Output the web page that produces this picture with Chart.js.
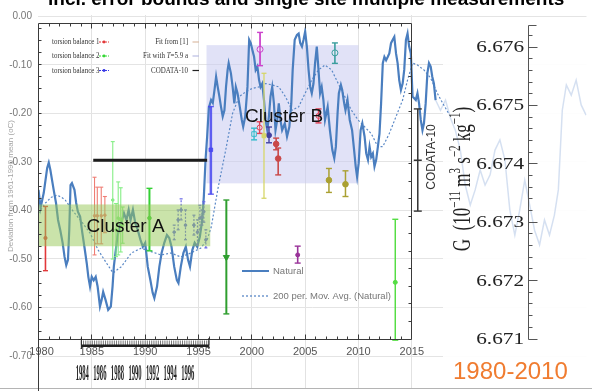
<!DOCTYPE html>
<html>
<head>
<meta charset="utf-8">
<script src="https://cdn.jsdelivr.net/npm/chart.js@4/dist/chart.umd.min.js"></script>
<style>
  html, body { margin: 0; padding: 0; background: #fff; overflow: hidden; }
  #wrap { position: relative; width: 592px; height: 391px; }
  canvas { display: block; }
  .ylab { position: absolute; right: 560px; font: 10px "Liberation Sans", Arial, sans-serif; color: #777; line-height: 12px; white-space: nowrap; }
</style>
</head>
<body>
<div id="wrap"><canvas id="c" width="592" height="391"></canvas></div>
<script>
// ---- Temperature deviation series (deg C vs 1961-1990 mean) ----
const naturalYears = [
  1980.00,1980.19,1980.49,1980.81,1980.96,1981.11,1981.42,1981.64,1981.83,1982.04,
  1982.26,1982.44,1982.60,1982.76,1982.88,1983.00,1983.13,1983.37,1983.53,1983.69,
  1983.90,1984.11,1984.30,1984.52,1984.67,1984.83,1984.99,1985.17,1985.36,1985.54,
  1985.76,1985.91,1986.06,1986.29,1986.53,1986.78,1986.94,1987.06,1987.21,1987.40,
  1987.61,1987.83,1988.01,1988.24,1988.45,1988.63,1988.85,1989.07,1989.31,1989.56,
  1989.78,1990.00,1990.24,1990.49,1990.70,1990.86,1991.11,1991.33,1991.54,1991.79,
  1992.04,1992.26,1992.47,1992.72,1992.97,1993.12,1993.34,1993.58,1993.81,1994.02,
  1994.20,1994.42,1994.64,1994.88,1995.13,1995.35,1995.50,1995.66,1995.81,1995.97,
  1996.18,1996.34,1996.50,1996.65,1996.80,1996.96,1997.11,1997.27,1997.43,1997.58,
  1997.73,1997.83,1998.04,1998.20,1998.36,1998.50,1998.66,1998.87,1999.06,1999.19,
  1999.38,1999.59,1999.75,1999.90,2000.05,2000.21,2000.36,2000.52,2000.68,2000.82,
  2000.98,2001.14,2001.29,2001.45,2001.60,2001.75,2001.91,2002.07,2002.22,2002.38,
  2002.53,2002.68,2002.84,2003.09,2003.30,2003.52,2003.70,2003.83,2004.02,2004.23,
  2004.39,2004.54,2004.70,2004.85,2005.00,2005.16,2005.32,2005.47,2005.62,2005.78,
  2005.93,2006.09,2006.25,2006.40,2006.55,2006.71,2006.86,2007.11,2007.32,2007.55,
  2007.73,2007.88,2008.04,2008.16,2008.35,2008.47,2008.66,2008.78,2008.97,2009.18,
  2009.40,2009.59,2009.74,2009.87,2010.02,2010.20,2010.36,2010.57,2010.73,2010.89,
  2011.04,2011.19,2011.35,2011.50,2011.66,2011.82,2011.97,2012.12,2012.28,2012.43,
  2012.59,2012.75,2012.89,2013.05,2013.21,2013.36,2013.52,2013.67,2013.82,2013.98,
  2014.14,2014.29,2014.45,2014.60,2014.75,2014.91,2015.07,2015.37,2015.53,2015.68,
  2015.84,2016.00,2016.14,2016.30,2016.46,2016.61,2016.77,2016.92,2017.07,2017.23
];
const naturalValues = [
  -0.358,-0.395,-0.364,-0.313,-0.302,-0.317,-0.358,-0.385,-0.420,-0.441,
  -0.467,-0.496,-0.513,-0.502,-0.441,-0.348,-0.344,-0.358,-0.385,-0.403,
  -0.413,-0.447,-0.475,-0.509,-0.537,-0.557,-0.537,-0.544,-0.537,-0.557,
  -0.598,-0.585,-0.568,-0.585,-0.605,-0.598,-0.557,-0.516,-0.488,-0.454,
  -0.434,-0.420,-0.406,-0.420,-0.399,-0.420,-0.399,-0.426,-0.441,-0.461,
  -0.475,-0.467,-0.516,-0.544,-0.570,-0.581,-0.557,-0.516,-0.488,-0.467,
  -0.451,-0.457,-0.475,-0.516,-0.544,-0.550,-0.516,-0.488,-0.475,-0.502,
  -0.516,-0.482,-0.467,-0.475,-0.454,-0.420,-0.372,-0.296,-0.248,-0.189,
  -0.173,-0.179,-0.152,-0.125,-0.146,-0.166,-0.187,-0.207,-0.194,-0.146,
  -0.111,-0.097,-0.118,-0.146,-0.180,-0.146,-0.159,-0.187,-0.214,-0.228,
  -0.207,-0.146,-0.049,-0.056,-0.070,-0.084,-0.111,-0.104,-0.132,-0.146,
  -0.139,-0.173,-0.214,-0.235,-0.207,-0.166,-0.146,-0.180,-0.235,-0.214,
  -0.180,-0.214,-0.235,-0.221,-0.248,-0.228,-0.180,-0.111,-0.049,-0.039,
  -0.036,-0.056,-0.063,-0.049,-0.032,-0.063,-0.111,-0.146,-0.159,-0.139,
  -0.097,-0.063,-0.111,-0.159,-0.146,-0.173,-0.214,-0.187,-0.235,-0.276,
  -0.293,-0.269,-0.200,-0.159,-0.142,-0.152,-0.180,-0.194,-0.173,-0.214,
  -0.235,-0.276,-0.310,-0.331,-0.303,-0.235,-0.221,-0.248,-0.283,-0.296,
  -0.269,-0.290,-0.283,-0.310,-0.296,-0.269,-0.242,-0.180,-0.097,-0.084,
  -0.091,-0.084,-0.077,-0.056,-0.049,-0.043,-0.077,-0.097,-0.132,-0.152,
  -0.139,-0.111,-0.049,-0.036,-0.063,-0.077,-0.166,-0.173,-0.159,-0.180,
  -0.214,-0.235,-0.221,-0.180,-0.118,-0.097,-0.104,-0.125,-0.139,-0.173
];

// 200-period moving average of the natural series
const movAvgYears = [
  1980.00,1980.65,1981.21,1981.74,1982.14,1982.51,1983.28,1984.06,1984.83,1985.60,
  1986.38,1986.99,1987.77,1988.70,1989.63,1990.56,1991.48,1992.41,1993.34,1994.27,
  1995.20,1995.81,1996.20,1996.80,1997.55,1998.20,1998.82,1999.43,2000.05,2000.68,
  2001.29,2001.91,2002.53,2003.15,2003.77,2004.39,2005.00,2005.62,2006.25,2006.86,
  2007.48,2008.10,2008.72,2009.34,2009.96,2010.57,2011.19,2011.82,2012.28,2012.89,
  2013.52,2014.14,2014.60,2015.07,2015.53,2016.14,2016.77,2017.39,2017.88,2018.44
];
const movAvgValues = [
  -0.406,-0.385,-0.373,-0.369,-0.373,-0.379,-0.403,-0.424,-0.447,-0.482,
  -0.509,-0.529,-0.516,-0.488,-0.478,-0.485,-0.492,-0.488,-0.496,-0.488,
  -0.478,-0.461,-0.434,-0.358,-0.276,-0.200,-0.166,-0.156,-0.149,-0.146,
  -0.139,-0.142,-0.146,-0.166,-0.194,-0.187,-0.159,-0.132,-0.111,-0.101,
  -0.111,-0.139,-0.166,-0.194,-0.214,-0.228,-0.242,-0.269,-0.269,-0.242,
  -0.207,-0.173,-0.132,-0.097,-0.101,-0.111,-0.128,-0.159,-0.179,-0.200
];

// faded continuation of the series behind the G panel
const fadedYears = [
  2017.23,2017.69,2018.16,2018.62,2019.08,2019.55,2020.01,2020.48,2020.94,2021.41,2021.87,
  2022.34,2022.80,2023.26,2023.73,2024.19,2024.66,2025.12,2025.59,2026.05,2026.51,
  2026.98,2027.44,2027.91,2028.37,2028.74,2029.11,2029.49,2029.95,2030.41,2030.88,2031.34
];
const fadedValues = [
  -0.173,-0.194,-0.173,-0.210,-0.235,-0.276,-0.348,-0.389,-0.358,-0.317,-0.348,
  -0.327,-0.276,-0.255,-0.296,-0.399,-0.451,-0.399,-0.338,-0.389,-0.441,
  -0.471,-0.420,-0.451,-0.410,-0.358,-0.194,-0.142,-0.163,-0.132,-0.183,-0.204
];

// ---- G measurements: [year, G, lower bound, upper bound] (10^-11 m^3 s^-2 kg^-1) ----
const torsion1Single = [[1980.65, 6.67273, 6.67217, 6.67327]];
const torsion1Group = [
  [1985.25, 6.67311, 6.67244, 6.67377], [1985.51, 6.67311, 6.67263, 6.67360],
  [1985.88, 6.67311, 6.67263, 6.67360], [1986.22, 6.67312, 6.67282, 6.67344]
];
const torsion2Group = [
  [1986.96, 6.67338, 6.67237, 6.67438], [1987.27, 6.67287, 6.67241, 6.67332],
  [1987.47, 6.67307, 6.67244, 6.67369], [1987.71, 6.67304, 6.67249, 6.67359],
  [1987.89, 6.67295, 6.67264, 6.67326]
];
const torsion2Single = [[1990.40, 6.67307, 6.67251, 6.67358]];
const torsion3Group = [
  [1992.72, 6.67283, 6.67270, 6.67295], [1993.09, 6.67304, 6.67287, 6.67321],
  [1993.37, 6.67321, 6.67304, 6.67340], [1993.78, 6.67295, 6.67270, 6.67321],
  [1994.57, 6.67295, 6.67278, 6.67312], [1994.90, 6.67283, 6.67261, 6.67304],
  [1995.13, 6.67307, 6.67287, 6.67329], [1995.32, 6.67309, 6.67295, 6.67321],
  [1995.50, 6.67318, 6.67300, 6.67335], [1995.69, 6.67270, 6.67256, 6.67287]
];
const torsion3Single = [[1996.16, 6.67424, 6.67348, 6.67498]];
const siteDarkGreen = [[1997.61, 6.67240, 6.67143, 6.67338]];
const siteMagenta = [[2000.77, 6.67596, 6.67568, 6.67625]];
const siteYellow = [[2001.14, 6.67448, 6.67341, 6.67555]];
const siteCyan = [[2000.21, 6.67451, 6.67441, 6.67461]];
const siteRed = [[2000.73, 6.67462, 6.67452, 6.67472], [2006.25, 6.67482, 6.67470, 6.67494]];
const siteNavy = [[2001.61, 6.67449, 6.67436, 6.67463]];
const siteBrown = [[2002.28, 6.67434, 6.67424, 6.67444], [2002.47, 6.67409, 6.67381, 6.67427]];
const siteTeal = [[2007.79, 6.67590, 6.67572, 6.67607]];
const siteOlive = [[2007.23, 6.67372, 6.67351, 6.67392], [2008.78, 6.67365, 6.67344, 6.67388]];
const sitePurple = [[2004.30, 6.67244, 6.67230, 6.67259]];
const siteLime = [[2013.45, 6.67197, 6.67098, 6.67305]];
const codataBar = [[2015.56, 6.67406, 6.67319, 6.67494]];
const codataYears = [1985.13, 1995.81];
const codataValue = 6.67406;

// ---- cluster regions (year range, deviation range) ----
const clusterAYears = [1980.0, 1996.1];
const clusterARange = [-0.474, -0.388];
const clusterBYears = [1995.75, 2010.0];
const clusterBRange = [-0.3445, -0.060];

// ---- tick labels ----
const yTickValues = [-0.7, -0.6, -0.5, -0.4, -0.3, -0.2, -0.1, 0];
const yTickLabels = ['-0.70', '-0.60', '-0.50', '-0.40', '-0.30', '-0.20', '-0.10', '0.00'];
const xTickYears = [1980, 1985, 1990, 1995, 2000, 2005, 2010, 2015];
const rulerYears = [1984, 1986, 1988, 1990, 1992, 1994, 1996];
const rulerSpan = [1983.9, 1998.4];
const gTickValues = [6.671, 6.672, 6.673, 6.674, 6.675, 6.676];
const innerYears = [1980, 2015];
const innerG = [6.671, 6.6764];

// ---- styling of the measurement series ----
const measurementStyles = [
  { rows: torsion1Single, color: '#e2383a', width: 1.6, cap: 2.5, r: 1.6 },
  { rows: torsion1Group, color: '#ef7d74', width: 1.1, cap: 2, r: 1.3 },
  { rows: torsion2Group, color: '#86ee86', width: 1.1, cap: 2, r: 1.3 },
  { rows: torsion2Single, color: '#34d034', width: 2, cap: 3, r: 1.8 },
  { rows: torsion3Group, color: '#6666e6', width: 1.2, cap: 1.5, r: 1.3, dash: [2, 1.5] },
  { rows: torsion3Single, color: 'rgba(70,70,240,0.85)', width: 2.5, cap: 3, r: 2.5, style: 'rect' },
  { rows: siteDarkGreen, color: '#2f9e2f', width: 2, cap: 3, r: 3.5, style: 'triangle', rot: 180 },
  { rows: siteMagenta, color: '#cc44cc', width: 1.8, cap: 3, r: 3, hollow: true },
  { rows: siteYellow, color: '#d6d66a', width: 1.3, cap: 2.5, r: 2.8, style: 'rect' },
  { rows: siteCyan, color: '#33bbcc', width: 1.4, cap: 3, r: 3.2, style: 'rect', hollow: true },
  { rows: siteRed, color: '#e04458', width: 1.4, cap: 3, r: 2.5, hollow: true },
  { rows: siteNavy, color: '#4242a0', width: 1.4, cap: 3, r: 2.5 },
  { rows: siteBrown, color: '#c94848', width: 1.6, cap: 3, r: 2.8 },
  { rows: siteTeal, color: '#3a9e9e', width: 1.6, cap: 3, r: 3, hollow: true },
  { rows: siteOlive, color: '#aaa032', width: 1.5, cap: 3, r: 2.8 },
  { rows: sitePurple, color: '#993399', width: 1.6, cap: 3, r: 2 },
  { rows: siteLime, color: '#55dd44', width: 1.5, cap: 3, r: 2 },
  { rows: codataBar, color: '#333333', width: 1.5, cap: 4, r: 4, style: 'line' }
];

function crisp(v) { return Math.floor(v) + 0.5; }
function seg(ctx, x1, y1, x2, y2) { ctx.beginPath(); ctx.moveTo(x1, y1); ctx.lineTo(x2, y2); ctx.stroke(); }

const measurementDatasets = measurementStyles.map((s, i) => ({
  type: 'scatter',
  data: s.rows.map(r => ({ x: r[0], y: r[1] })),
  errLow: s.rows.map(r => r[2]),
  errHigh: s.rows.map(r => r[3]),
  whiskerColor: s.color, whiskerWidth: s.width, whiskerDash: s.dash || null, capHalf: s.cap,
  xAxisID: 'x', yAxisID: 'g',
  pointStyle: s.style || 'circle', rotation: s.rot || 0,
  pointRadius: s.r, pointBorderWidth: s.style === 'line' ? 1.5 : 1,
  pointBorderColor: s.color, pointBackgroundColor: s.hollow ? 'rgba(255,255,255,0.2)' : s.color,
  order: 2 + i * 0.01
}));

// Error bar whiskers, drawn just before each measurement series' markers
const whiskers = {
  id: 'whiskers',
  beforeDatasetDraw(chart, args) {
    const ds = chart.data.datasets[args.index];
    if (!ds.errLow) return;
    const ctx = chart.ctx, xs = chart.scales[ds.xAxisID], ys = chart.scales[ds.yAxisID];
    ctx.save();
    ctx.strokeStyle = ds.whiskerColor;
    ctx.lineWidth = ds.whiskerWidth;
    ds.data.forEach((pt, i) => {
      const px = xs.getPixelForValue(pt.x);
      const lo = ys.getPixelForValue(ds.errLow[i]);
      const hi = ys.getPixelForValue(ds.errHigh[i]);
      ctx.setLineDash(ds.whiskerDash || []);
      seg(ctx, px, lo, px, hi);
      ctx.setLineDash([]);
      ctx.lineWidth = Math.min(ds.whiskerWidth, 1.4);
      seg(ctx, px - ds.capHalf, lo, px + ds.capHalf, lo);
      seg(ctx, px - ds.capHalf, hi, px + ds.capHalf, hi);
      ctx.lineWidth = ds.whiskerWidth;
    });
    ctx.restore();
  }
};

// Page background, year grid, cluster B region and the translucent G panel
const backdrop = {
  id: 'backdrop',
  beforeDraw(chart) {
    const ctx = chart.ctx, x = chart.scales.x;
    ctx.save();
    ctx.fillStyle = '#ffffff';
    ctx.fillRect(0, 0, chart.width, chart.height);
    ctx.strokeStyle = '#e2e2e2';
    ctx.lineWidth = 1;
    xTickYears.forEach(yr => {
      if (yr === 1980) return;
      const p = crisp(x.getPixelForValue(yr));
      seg(ctx, p, 15, p, 388);
    });
    ctx.strokeStyle = '#b4b4b4';
    seg(ctx, 0, 388.5, chart.width, 388.5);
    // rotated axis title of the deviation scale
    ctx.translate(11, 186);
    ctx.rotate(-Math.PI / 2);
    ctx.font = '8px "Liberation Sans"';
    ctx.fillStyle = '#a4a4a4';
    ctx.textAlign = 'center';
    ctx.textBaseline = 'middle';
    ctx.fillText('Deviation from 1961-1990 mean (oC)', 0, 0);
    ctx.restore();
  },
  beforeDatasetsDraw(chart) {
    const ctx = chart.ctx, x = chart.scales.x, y = chart.scales.y;
    ctx.save();
    const bx0 = x.getPixelForValue(clusterBYears[0]), bx1 = x.getPixelForValue(clusterBYears[1]);
    const by0 = y.getPixelForValue(clusterBRange[1]), by1 = y.getPixelForValue(clusterBRange[0]);
    ctx.fillStyle = 'rgba(200,203,240,0.55)';
    ctx.fillRect(bx0, by0, bx1 - bx0, by1 - by0);
    ctx.fillStyle = 'rgba(255,255,255,0.9)';
    ctx.fillRect(443, 17, chart.width - 443, 371);
    ctx.restore();
  }
};

// Frames, axes, labels, legends and annotations drawn over the data
const annotations = {
  id: 'annotations',
  afterDatasetsDraw(chart) {
    const ctx = chart.ctx;
    const { x, y, g, xr } = chart.scales;
    ctx.save();

    // cluster A region (translucent, over the data)
    const ax0 = x.getPixelForValue(clusterAYears[0]), ax1 = x.getPixelForValue(clusterAYears[1]);
    const ay0 = y.getPixelForValue(clusterARange[1]), ay1 = y.getPixelForValue(clusterARange[0]);
    ctx.fillStyle = 'rgba(150,200,85,0.5)';
    ctx.fillRect(ax0, ay0, ax1 - ax0, ay1 - ay0);

    // inner measurement frame
    const fx0 = crisp(x.getPixelForValue(innerYears[0])), fx1 = crisp(x.getPixelForValue(innerYears[1]));
    const fy0 = crisp(g.getPixelForValue(innerG[1])), fy1 = crisp(g.getPixelForValue(innerG[0]));
    ctx.strokeStyle = '#3a3a3a';
    ctx.lineWidth = 1;
    seg(ctx, fx0, fy0, fx1, fy0);
    seg(ctx, fx1, fy0, fx1, fy1);
    seg(ctx, fx0, fy1, fx1, fy1);
    seg(ctx, fx0, fy0, fx0, 391);
    for (let yr = innerYears[0] + 1; yr < innerYears[1]; yr++) {
      const p = crisp(x.getPixelForValue(yr));
      const len = yr % 5 === 0 ? 5 : 3;
      seg(ctx, p, fy0, p, fy0 + len);
      seg(ctx, p, fy1, p, fy1 - len);
    }
    for (let k = 1; k < 28; k++) {
      const p = crisp(y.getPixelForValue(-k * 0.025));
      if (p > fy0 + 2 && p < fy1 - 2) seg(ctx, fx0, p, fx0 + 3, p);
    }
    for (let k = 1; k < 18; k++) {
      const p = crisp(g.getPixelForValue(innerG[0] + k * 0.0003));
      if (p > fy0 + 2) seg(ctx, fx1, p, fx1 - 3, p);
    }

    // year labels
    ctx.font = '11px "Liberation Sans"';
    ctx.fillStyle = '#555';
    ctx.textAlign = 'center';
    ctx.textBaseline = 'middle';
    xTickYears.forEach(yr => ctx.fillText(String(yr), x.getPixelForValue(yr) + (yr === 1980 ? 3 : 0), 352));
    ctx.strokeStyle = '#3a3a3a';
    seg(ctx, fx0, fy1, fx0, 391);

    // secondary time ruler below the frame
    const r0 = xr.getPixelForValue(rulerSpan[0]), r1 = xr.getPixelForValue(rulerSpan[1]);
    ctx.strokeStyle = '#777';
    for (let t = rulerSpan[0]; t <= rulerSpan[1] + 1e-6; t += 0.25) {
      const p = xr.getPixelForValue(t);
      seg(ctx, p, 340.5, p, 345);
    }
    ctx.strokeStyle = '#222';
    seg(ctx, r0, 338, r0, 349);
    seg(ctx, r1, 338, r1, 349);
    ctx.fillStyle = '#1e1e1e';
    ctx.fillRect(r0, 344.5, r1 - r0, 2.5);
    ctx.font = 'bold 12px "Liberation Serif"';
    ctx.fillStyle = '#1e1e1e';
    rulerYears.forEach(yr => {
      ctx.save();
      ctx.translate(xr.getPixelForValue(yr), 373.5);
      ctx.scale(0.55, 2.0);
      ctx.fillText(String(yr), 0, 0);
      ctx.restore();
    });

    // legend of the measurement panel
    const rowsY = [42, 56, 70.5];
    const leftLegend = [['torsion balance 1', '#e2383a'], ['torsion balance 2', '#34d834'], ['torsion balance 3', '#3a3ae6']];
    ctx.font = '8px "Liberation Serif"';
    ctx.textBaseline = 'middle';
    leftLegend.forEach(([label, color], i) => {
      ctx.save();
      ctx.translate(52, rowsY[i]);
      ctx.scale(0.87, 1);
      ctx.fillStyle = '#333';
      ctx.textAlign = 'left';
      ctx.fillText(label, 0, 0);
      ctx.restore();
      ctx.strokeStyle = color;
      ctx.lineWidth = 1;
      ctx.setLineDash([2, 1]);
      seg(ctx, 99, rowsY[i], 109, rowsY[i]);
      ctx.setLineDash([]);
      ctx.fillStyle = color;
      ctx.beginPath(); ctx.arc(104, rowsY[i], 1.4, 0, Math.PI * 2); ctx.fill();
    });
    const rightLegend = [
      [[['Fit from [1]', '']], '#dcbca4'],
      [[['Fit with ', ''], ['T', 'italic '], ['=5.9 a', '']], '#b9bde2'],
      [[['CODATA-10', '']], '#222']
    ];
    rightLegend.forEach(([parts, color], i) => {
      ctx.save();
      ctx.translate(188, rowsY[i]);
      ctx.scale(0.87, 1);
      ctx.fillStyle = '#333';
      ctx.textAlign = 'left';
      let total = 0;
      parts.forEach(([t, f]) => { ctx.font = f + '8px "Liberation Serif"'; total += ctx.measureText(t).width; });
      let cx = -total;
      parts.forEach(([t, f]) => { ctx.font = f + '8px "Liberation Serif"'; ctx.fillText(t, cx, 0); cx += ctx.measureText(t).width; });
      ctx.restore();
      ctx.strokeStyle = color;
      ctx.lineWidth = 1.2;
      seg(ctx, 192.5, rowsY[i], 199, rowsY[i]);
    });

    // legend of the temperature series
    ctx.strokeStyle = '#4a7ebf';
    ctx.lineWidth = 2;
    seg(ctx, 242, 271, 269, 271);
    ctx.strokeStyle = '#5a88c6';
    ctx.lineWidth = 1.3;
    ctx.setLineDash([2, 2]);
    seg(ctx, 242, 296, 268, 296);
    ctx.setLineDash([]);
    ctx.font = '9.5px "Liberation Sans"';
    ctx.fillStyle = '#777';
    ctx.textAlign = 'left';
    ctx.textBaseline = 'middle';
    ctx.fillText('Natural', 273, 271);
    ctx.fillText('200 per. Mov. Avg. (Natural)', 273, 296);

    // cluster names
    ctx.font = '19px "Liberation Sans"';
    ctx.fillStyle = '#111';
    ctx.fillText('Cluster A', 86.5, 227);
    ctx.fillText('Cluster B', 245, 117);

    // CODATA caption beside its bar
    ctx.save();
    ctx.translate(432, 157);
    ctx.rotate(-Math.PI / 2);
    ctx.font = '12px "Liberation Sans"';
    ctx.fillStyle = '#333';
    ctx.textAlign = 'center';
    ctx.fillText('CODATA-10', 0, 0);
    ctx.restore();

    // G axis
    const gx = 528.5;
    ctx.strokeStyle = '#555';
    ctx.lineWidth = 1;
    const gTop = 25.5, gBottom = crisp(g.getPixelForValue(gTickValues[0]));
    seg(ctx, gx, gTop, gx, gBottom);
    seg(ctx, gx, gTop, gx + 8, gTop);
    for (let k = 0; k <= 26; k++) {
      const p = crisp(g.getPixelForValue(gTickValues[0] + k * 0.0002));
      seg(ctx, gx, p, gx + (k % 5 === 0 ? 9 : 4), p);
    }
    ctx.font = '17px "Liberation Serif"';
    ctx.fillStyle = '#222';
    ctx.textAlign = 'right';
    ctx.textBaseline = 'middle';
    gTickValues.forEach(v => {
      ctx.save();
      ctx.translate(524, g.getPixelForValue(v) + 0.5);
      ctx.scale(1.25, 1);
      ctx.fillText(v.toFixed(3), 0, 0);
      ctx.restore();
    });

    // G axis title with superscripts
    const parts = [['G', 0], ['  (10', 0], ['\u221211', 1], [' m', 0], ['3', 1], [' s', 0], ['\u22122', 1], [' kg', 0], ['\u22121', 1], [')', 0]];
    ctx.save();
    ctx.translate(470, 179);
    ctx.scale(1.45, 1);
    ctx.rotate(-Math.PI / 2);
    ctx.textAlign = 'left';
    ctx.textBaseline = 'alphabetic';
    let total = 0;
    parts.forEach(([t, s]) => { ctx.font = (s ? 11 : 17) + 'px "Liberation Serif"'; total += ctx.measureText(t).width; });
    let cx = -total / 2;
    parts.forEach(([t, s]) => {
      ctx.font = (s ? 11 : 17) + 'px "Liberation Serif"';
      ctx.fillText(t, cx, s ? -7 : 0);
      cx += ctx.measureText(t).width;
    });
    ctx.restore();

    // period caption
    ctx.font = '24px "Liberation Sans"';
    ctx.fillStyle = '#f07c30';
    ctx.textAlign = 'left';
    ctx.textBaseline = 'middle';
    ctx.fillText('1980-2010', 453, 372);

    // headline
    ctx.font = 'bold 19px "Liberation Sans"';
    ctx.fillStyle = '#000';
    ctx.textBaseline = 'alphabetic';
    ctx.fillText('incl. error bounds and single site multiple measurements', 48, 5);

    ctx.restore();
  }
};

const toPoints = (xs, ys) => xs.map((v, i) => ({ x: v, y: ys[i] }));

const chart = new Chart(document.getElementById('c'), {
  type: 'line',
  data: {
    datasets: [
      {
        label: 'Natural', data: toPoints(naturalYears, naturalValues),
        borderColor: '#4a7ebf', borderWidth: 2.2, pointRadius: 0, xAxisID: 'x', yAxisID: 'y', order: 20
      },
      {
        label: '200 per. Mov. Avg. (Natural)', data: toPoints(movAvgYears, movAvgValues),
        borderColor: '#5a88c6', borderWidth: 1.2, borderDash: [2, 2], pointRadius: 0, xAxisID: 'x', yAxisID: 'y', order: 21
      },
      {
        label: 'faded', data: toPoints(fadedYears, fadedValues),
        borderColor: 'rgba(206,219,239,0.85)', borderWidth: 1.5, pointRadius: 0, xAxisID: 'x', yAxisID: 'y', order: 22
      },
      {
        label: 'CODATA-10', data: codataYears.map(v => ({ x: v, y: codataValue })),
        borderColor: '#1c1c1c', borderWidth: 3, pointRadius: 0, xAxisID: 'x', yAxisID: 'g', order: 1
      },
      ...measurementDatasets
    ]
  },
  options: {
    responsive: false,
    animation: false,
    devicePixelRatio: 1,
    layout: { padding: { top: 16, bottom: 35, left: 0, right: 0 } },
    elements: { line: { tension: 0 } },
    plugins: { legend: { display: false }, tooltip: { enabled: false }, title: { display: false } },
    scales: {
      x: { type: 'linear', min: 1979.95, max: 2031.38, display: false },
      xr: { type: 'linear', axis: 'x', min: 1978.97, max: 2041.33, display: false },
      y: {
        type: 'linear', position: 'left', min: -0.70, max: 0.00,
        afterFit(scale) { scale.width = 38; },
        afterBuildTicks(scale) { scale.ticks = yTickValues.map(v => ({ value: v })); },
        ticks: { display: false },
        grid: { color: '#e4e4e4', drawTicks: false },
        border: { display: false }
      },
      g: { type: 'linear', axis: 'y', position: 'right', min: 6.670709, max: 6.676531, display: false }
    }
  },
  plugins: [backdrop, whiskers, annotations]
});

// deviation tick labels, placed with the chart's own y scale
const wrap = document.getElementById('wrap');
yTickValues.forEach((v, i) => {
  const el = document.createElement('div');
  el.className = 'ylab';
  el.textContent = yTickLabels[i];
  el.style.top = (chart.scales.y.getPixelForValue(v) - 6) + 'px';
  wrap.appendChild(el);
});
</script>
</body>
</html>
